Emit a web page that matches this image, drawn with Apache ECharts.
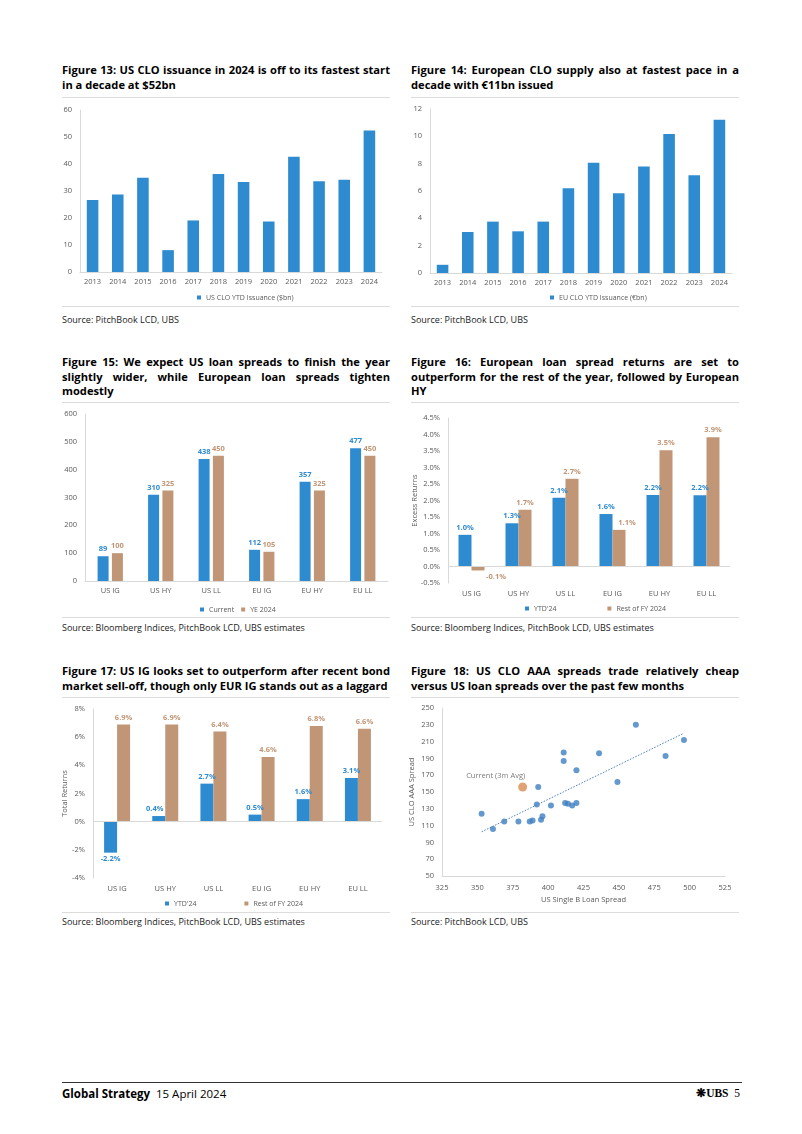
<!DOCTYPE html>
<html><head><meta charset="utf-8">
<script src="https://cdn.jsdelivr.net/npm/echarts@6/dist/echarts.min.js"></script>
<style>
body{margin:0;background:#fff;width:802px;height:1134px;position:relative;overflow:hidden;font-family:'Open Sans',sans-serif;}
.t{position:absolute;width:328px;font-family:'Open Sans',sans-serif;font-weight:bold;color:#000;}
.t div{text-align:justify;text-align-last:justify;}
.t div.last{text-align:left;text-align-last:left;}
.sep{position:absolute;height:1px;background:#dcdcdc;width:328px;}
.src{position:absolute;font-size:9px;line-height:12px;color:#222;}
.ch{position:absolute;width:328px;}
</style></head><body>

<div class="t" style="left:62px;top:62px;"><div>Figure 13: US CLO issuance in 2024 is off to its fastest start</div><div class="last">in a decade at $52bn</div></div>
<div class="t" style="left:411px;top:62px;"><div>Figure 14: European CLO supply also at fastest pace in a</div><div class="last">decade with €11bn issued</div></div>
<div class="t" style="left:62px;top:355px;"><div>Figure 15: We expect US loan spreads to finish the year</div><div>slightly wider, while European loan spreads tighten</div><div class="last">modestly</div></div>
<div class="t" style="left:411px;top:355px;"><div>Figure 16: European loan spread returns are set to</div><div>outperform for the rest of the year, followed by European</div><div class="last">HY</div></div>
<div class="t" style="left:62px;top:663px;"><div>Figure 17: US IG looks set to outperform after recent bond</div><div class="last">market sell-off, though only EUR IG stands out as a laggard</div></div>
<div class="t" style="left:411px;top:663px;"><div>Figure 18: US CLO AAA spreads trade relatively cheap</div><div class="last">versus US loan spreads over the past few months</div></div>

<div class="sep" style="left:62px;top:97px"></div><div class="sep" style="left:411px;top:97px"></div>
<div class="sep" style="left:62px;top:306px"></div><div class="sep" style="left:411px;top:306px"></div>
<div class="sep" style="left:62px;top:402px"></div><div class="sep" style="left:411px;top:402px"></div>
<div class="sep" style="left:62px;top:617px"></div><div class="sep" style="left:411px;top:617px"></div>
<div class="sep" style="left:62px;top:697px"></div><div class="sep" style="left:411px;top:697px"></div>
<div class="sep" style="left:62px;top:912px"></div><div class="sep" style="left:411px;top:912px"></div>

<div class="src" style="left:62px;top:314px">Source: PitchBook LCD, UBS</div>
<div class="src" style="left:411px;top:314px">Source: PitchBook LCD, UBS</div>
<div class="src" style="left:62px;top:622px">Source: Bloomberg Indices, PitchBook LCD, UBS estimates</div>
<div class="src" style="left:411px;top:622px">Source: Bloomberg Indices, PitchBook LCD, UBS estimates</div>
<div class="src" style="left:62px;top:916px">Source: Bloomberg Indices, PitchBook LCD, UBS estimates</div>
<div class="src" style="left:411px;top:916px">Source: PitchBook LCD, UBS</div>

<div id="c13" class="ch" style="left:62px;top:98px;height:207px"></div>
<div id="c14" class="ch" style="left:411px;top:98px;height:207px"></div>
<div id="c15" class="ch" style="left:62px;top:403px;height:213px"></div>
<div id="c16" class="ch" style="left:411px;top:403px;height:213px"></div>
<div id="c17" class="ch" style="left:62px;top:698px;height:213px"></div>
<div id="c18" class="ch" style="left:403px;top:698px;height:213px;width:336px"></div>

<div style="position:absolute;left:62px;top:1082px;width:680px;height:1px;background:#333"></div>
<div style="position:absolute;left:62px;top:1086px;font-size:11.5px;line-height:15px;color:#000;font-family:'Open Sans',sans-serif"><b>Global Strategy</b>&nbsp;&nbsp;15 April 2024</div>
<div style="position:absolute;right:62px;top:1086px;font-size:11.5px;line-height:15px;color:#000;font-family:'Liberation Serif',serif"><b>❋UBS</b>&nbsp;&nbsp;5</div>

<script>
// ---------- data ----------
const years = ['2013','2014','2015','2016','2017','2018','2019','2020','2021','2022','2023','2024'];
const usCloIssuance = [26.7, 28.7, 34.9, 8.1, 19.1, 36.3, 33.3, 18.7, 42.7, 33.6, 34.2, 52.4];
const euCloIssuance = [0.6, 3.0, 3.76, 3.05, 3.76, 6.2, 8.07, 5.83, 7.8, 10.17, 7.15, 11.22];

const assetClasses = ['US IG','US HY','US LL','EU IG','EU HY','EU LL'];
const spreadCurrent = [89, 310, 438, 112, 357, 477];
const spreadYE2024 = [100, 325, 450, 105, 325, 450];

const excessYTD = [0.96, 1.31, 2.08, 1.59, 2.17, 2.16];
const excessRest = [-0.12, 1.72, 2.66, 1.11, 3.52, 3.92];

const totalYTD = [-2.2, 0.4, 2.7, 0.5, 1.6, 3.1];
const totalRest = [6.9, 6.9, 6.4, 4.6, 6.8, 6.6];

const loanSpread = [353, 361, 369, 379, 387, 389, 393, 392, 395, 396, 402, 411, 411, 412, 414, 417, 420, 420, 436, 449, 462, 483, 496];
const cloAAA     = [124, 106, 115, 115, 115, 116, 156, 135, 117, 121, 134, 187, 197, 137, 136, 134, 137, 176, 196, 162, 230, 193, 212];
const currentPoint = [382, 156];

// ---------- fit title font ----------
(function(){
  const cv = document.createElement('canvas').getContext('2d');
  let maxW = 0; const fs = 12.5;
  cv.font = 'bold ' + fs + 'px "Open Sans"';
  document.querySelectorAll('.t div').forEach(d => { maxW = Math.max(maxW, cv.measureText(d.textContent).width); });
  const size = Math.min(fs, fs * 326 / maxW);
  document.querySelectorAll('.t').forEach(t => { t.style.fontSize = size + 'px'; });
  document.querySelectorAll('.t').forEach((t,i) => { t.style.lineHeight = (i===2||i===3) ? '14.5px' : '15px'; });
})();

// ---------- styles ----------
const BLUE = '#2f8bcf', BROWN = '#c19676', AX = '#595959', LN = '#d9d9d9', FONT = 'Open Sans';
const axisLbl = {color: AX, fontSize: 7.5, fontFamily: FONT};
const nameStyle = {color:AX, fontSize:7.5, fontFamily:FONT};
function grid(l, r, t, b){ return {left:l, right:r, top:t, bottom:b, containLabel:false, outerBoundsMode:'none'}; }
function catAxis(data, margin){ return {type:'category', data, axisLine:{lineStyle:{color:LN}}, axisTick:{show:false}, axisLabel:Object.assign({margin: margin||6}, axisLbl)}; }
function valAxis(min, max, interval, fmt){ return {type:'value', min, max, interval, axisLine:{show:true, lineStyle:{color:LN}}, axisTick:{show:false}, splitLine:{show:false}, axisLabel:Object.assign({margin:8, formatter: fmt}, axisLbl)}; }
function named(axis, name, gap){ return Object.assign(axis, {name, nameLocation:'middle', nameGap:gap, nameMoveOverlap:false, nameTextStyle:nameStyle}); }
function legend(left, top, gap){ return {left, top, itemGap: gap, itemWidth:4, itemHeight:4, icon:'rect', textStyle:{color:AX, fontSize:7, fontFamily:FONT}}; }
const zeroLine = {silent:true, symbol:'none', data:[{yAxis:0}], lineStyle:{color:LN, type:'solid', width:1}, label:{show:false}};
function barLabel(color, fmt){ return {show:true, position:'top', distance:3, color, fontSize:7.5, fontWeight:'bold', fontFamily:FONT, formatter: fmt}; }

function mk(id, opt){ const c = echarts.init(document.getElementById(id), null, {renderer:'canvas'}); opt.animation=false; opt.textStyle={fontFamily:FONT}; c.setOption(opt); }

// Figure 13
mk('c13', {
  grid: grid(18, 8, 12, 33),
  legend: legend(130, 191, 10),
  xAxis: catAxis(years),
  yAxis: valAxis(0, 60, 10),
  series:[{type:'bar', name:'US CLO YTD Issuance ($bn)', data:usCloIssuance, barWidth:'46%', itemStyle:{color:BLUE}}]
});
// Figure 14
mk('c14', {
  grid: grid(19, 7, 11, 32),
  legend: legend(134, 191, 10),
  xAxis: catAxis(years),
  yAxis: valAxis(0, 12, 2),
  series:[{type:'bar', name:'EU CLO YTD Issuance (€bn)', data:euCloIssuance, barWidth:'46%', itemStyle:{color:BLUE}}]
});
// Figure 15
mk('c15', {
  grid: grid(23, 2, 11, 35),
  legend: legend(133, 198, 7),
  xAxis: catAxis(assetClasses),
  yAxis: valAxis(0, 600, 100),
  series:[
    {type:'bar', name:'Current', data:spreadCurrent, barWidth:11, barGap:'30%', itemStyle:{color:BLUE}, label:barLabel(BLUE)},
    {type:'bar', name:'YE 2024', data:spreadYE2024, barWidth:11, itemStyle:{color:BROWN}, label:barLabel(BROWN)}
  ]
});
// Figure 16 / 17 helpers: negative bars get their label below; some labels nudged sideways
function pctItems(arr, negDx, nudges){
  return arr.map((v, i) => {
    const dx = (nudges && nudges[i]) || 0;
    if (v < 0) return {value:v, label:{position:'bottom', distance:2, offset:[negDx||0, 0]}};
    if (dx) return {value:v, label:{offset:[dx, 0]}};
    return v;
  });
}
const fmt1 = p => p.value.toFixed(1) + '%';
mk('c16', {
  grid: grid(37, 9, 15, 33),
  legend: legend(109, 197, 51),
  xAxis: Object.assign(catAxis(assetClasses, 7), {axisLine:{show:false}}),
  yAxis: named(valAxis(-0.5, 4.5, 0.5, v => v.toFixed(1) + '%'), 'Excess Returns', 29),
  series:[
    {type:'bar', name:"YTD'24", data:pctItems(excessYTD), barWidth:13, barGap:'0%', itemStyle:{color:BLUE}, label:barLabel(BLUE, fmt1), markLine: zeroLine},
    {type:'bar', name:'Rest of FY 2024', data:pctItems(excessRest, 18, {3:8}), barWidth:13, itemStyle:{color:BROWN}, label:barLabel(BROWN, fmt1)}
  ]
});
// Figure 17
mk('c17', {
  grid: grid(31, 8, 11, 33),
  legend: legend(98, 197, 48),
  xAxis: Object.assign(catAxis(assetClasses, 7), {axisLine:{show:false}}),
  yAxis: named(valAxis(-4, 8, 2, v => v + '%'), 'Total Returns', 24),
  series:[
    {type:'bar', name:"YTD'24", data:pctItems(totalYTD, 0, {1:-4}), barWidth:13, barGap:'0%', itemStyle:{color:BLUE}, label:barLabel(BLUE, fmt1), markLine: zeroLine},
    {type:'bar', name:'Rest of FY 2024', data:pctItems(totalRest), barWidth:13, itemStyle:{color:BROWN}, label:barLabel(BROWN, fmt1)}
  ]
});
// Figure 18
const pts = loanSpread.map((x,i) => [x, cloAAA[i]]);
const n = pts.length, mx = loanSpread.reduce((a,b)=>a+b,0)/n, my = cloAAA.reduce((a,b)=>a+b,0)/n;
let sxy=0, sxx=0; pts.forEach(([x,y]) => { sxy += (x-mx)*(y-my); sxx += (x-mx)*(x-mx); });
const slope = sxy/sxx, icpt = my - slope*mx;
const xMin = Math.min(...loanSpread), xMax = Math.max(...loanSpread);
const trend = [[xMin, icpt + slope*xMin], [xMax, icpt + slope*xMax]];
mk('c18', {
  grid: grid(39, 14, 10, 35),
  xAxis: named(valAxis(325, 525, 25), 'US Single B Loan Spread', 20),
  yAxis: named(valAxis(50, 250, 20), 'US CLO AAA Spread', 26),
  series:[
    {type:'line', data:trend, symbol:'none', lineStyle:{color:'#4a7fc1', width:1, type:[1.5,1.5]}, z:1},
    {type:'scatter', data:pts, symbolSize:6, itemStyle:{color:'#3f7fc0'}, z:2},
    {type:'scatter', data:[currentPoint], symbolSize:9, itemStyle:{color:'#d98c54'}, z:3,
     label:{show:true, position:'top', distance:3, offset:[-27,0], formatter:'Current (3m Avg)', color:AX, fontSize:7.5, fontFamily:FONT}}
  ]
});
</script>
</body></html>
